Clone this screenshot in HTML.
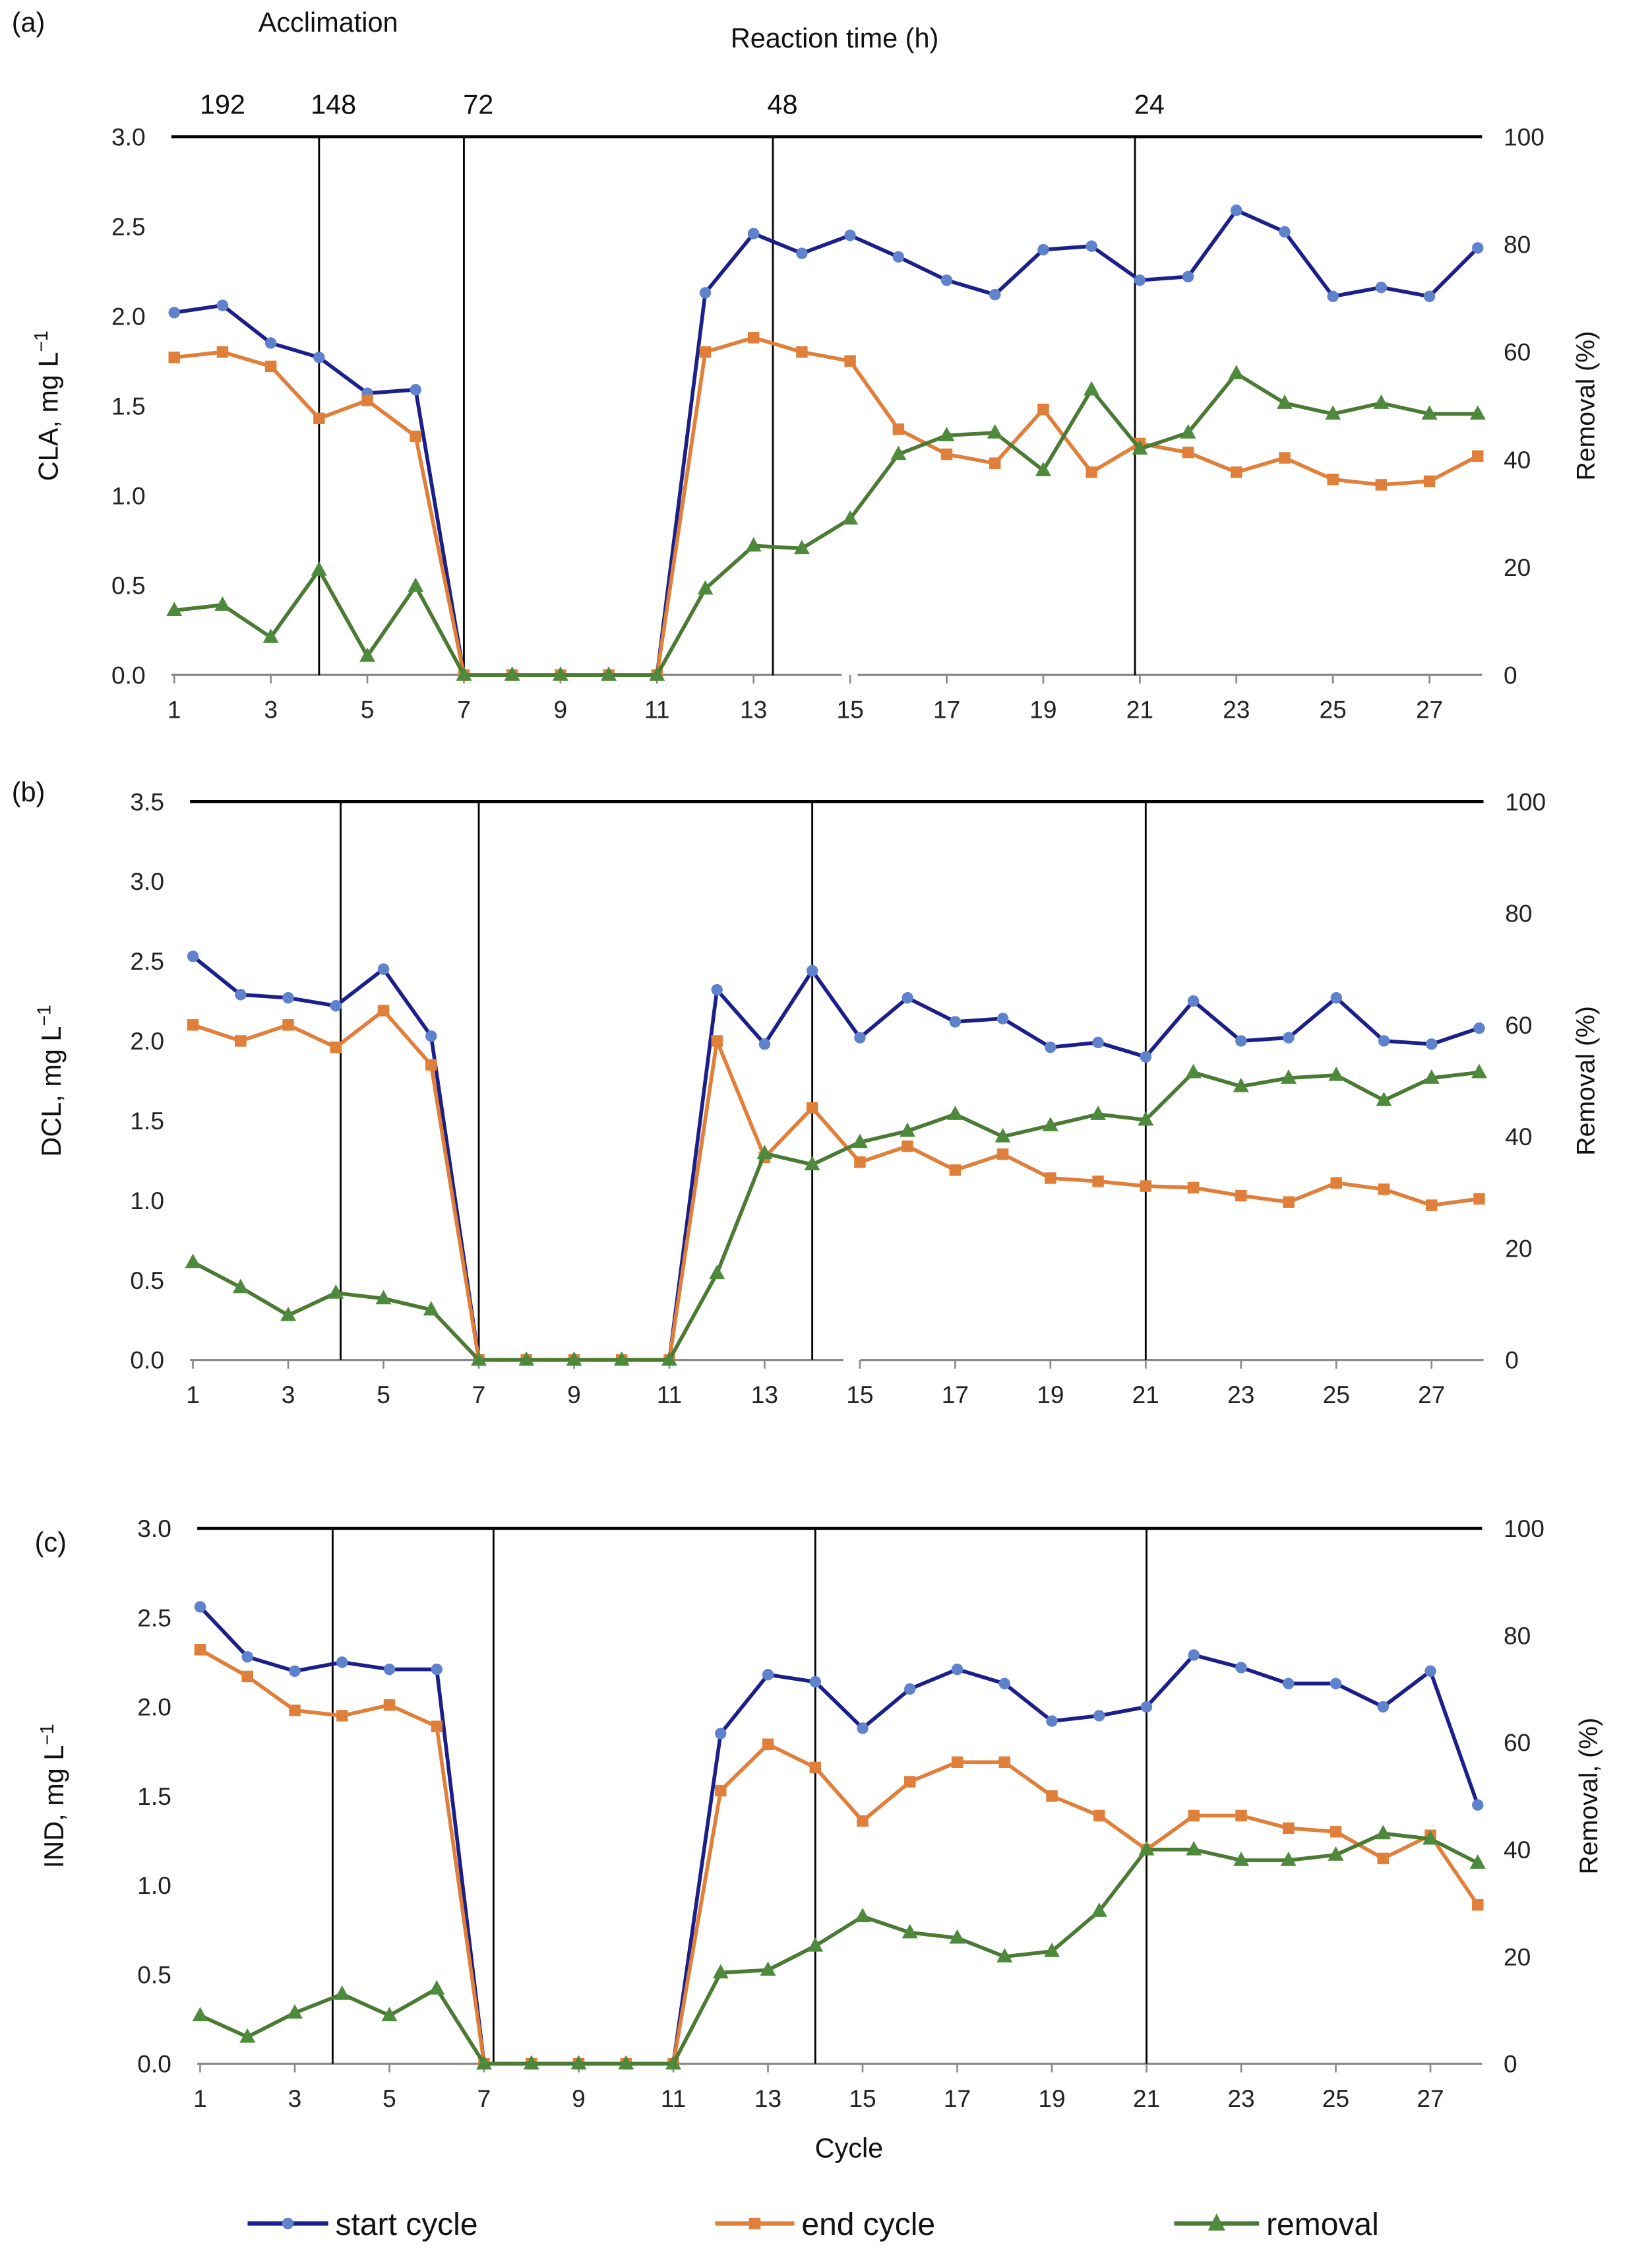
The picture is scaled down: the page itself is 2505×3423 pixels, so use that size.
<!DOCTYPE html>
<html><head><meta charset="utf-8"><style>
html,body{margin:0;padding:0;background:#fff;}
svg{display:block;font-family:"Liberation Sans",Arial,sans-serif;}
</style></head><body>
<svg id="fig" width="2505" height="3423" viewBox="0 0 1148 1569" xmlns="http://www.w3.org/2000/svg"></svg>
<script>
const cycles=[1,2,3,4,5,6,7,8,9,10,11,12,13,14,15,16,17,18,19,20,21,22,23,24,25,26,27,28];
const aStart=[2.02,2.06,1.85,1.77,1.57,1.59,0,0,0,0,0,2.13,2.46,2.35,2.45,2.33,2.2,2.12,2.37,2.39,2.2,2.22,2.59,2.47,2.11,2.16,2.11,2.38];
const aEnd=[1.77,1.8,1.72,1.43,1.53,1.33,0,0,0,0,0,1.8,1.88,1.8,1.75,1.37,1.23,1.18,1.48,1.13,1.29,1.24,1.13,1.21,1.09,1.06,1.08,1.22];
const aRem=[12,13,7,19.5,3.5,16.5,0,0,0,0,0,16,24,23.5,29,41,44.5,45,38,53,42,45,56,50.5,48.5,50.5,48.5,48.5];
const bStart=[2.53,2.29,2.27,2.22,2.45,2.03,0,0,0,0,0,2.32,1.98,2.44,2.02,2.27,2.12,2.14,1.96,1.99,1.9,2.25,2.0,2.02,2.27,2.0,1.98,2.08];
const bEnd=[2.1,2.0,2.1,1.96,2.19,1.85,0,0,0,0,0,2.0,1.27,1.58,1.24,1.34,1.19,1.29,1.14,1.12,1.09,1.08,1.03,0.99,1.11,1.07,0.97,1.01];
const bRem=[17.5,13,8,12,11,9,0,0,0,0,0,15.5,37,35,39,41,44,40,42,44,43,51.5,49,50.5,51,46.5,50.5,51.5];
const cStart=[2.56,2.28,2.2,2.25,2.21,2.21,0,0,0,0,0,1.85,2.18,2.14,1.88,2.1,2.21,2.13,1.92,1.95,2.0,2.29,2.22,2.13,2.13,2.0,2.2,1.45];
const cEnd=[2.32,2.17,1.98,1.95,2.01,1.89,0,0,0,0,0,1.53,1.79,1.66,1.36,1.58,1.69,1.69,1.5,1.39,1.2,1.39,1.39,1.32,1.3,1.15,1.28,0.89];
const cRem=[9,5,9.5,13,9,14,0,0,0,0,0,17,17.5,22,27.5,24.5,23.5,20,21,28.5,40,40,38,38,39,43,42,37.5];
const aTicks=[0,0.5,1,1.5,2,2.5,3];
const bTicks=[0,0.5,1,1.5,2,2.5,3,3.5];
const remTicksA=[0,20,40,60,80,100];
const remTicksB=[0,20,40,60,80,100];
const xTickLabels=[1,3,5,7,9,11,13,15,17,19,21,23,25,27];
const timeLabels=["192","148","72","48","24"];
const timeCycles=[2,4,7,13.3,20.9];

const NS="http://www.w3.org/2000/svg";
const svg=document.getElementById('fig');
function el(tag,attrs,parent,txt){const e=document.createElementNS(NS,tag);for(const k in attrs)e.setAttribute(k,attrs[k]);if(txt!==undefined)e.textContent=txt;(parent||svg).appendChild(e);return e;}

const BLUE="#1b1f8a",BLUEM="#5f82cc",ORANGE="#e07f3a",GREEN="#4a7a33",GREENM="#4e8a3c";

function panel(o){
  const g=el('g',{});
  
  
  const x=c=>o.x1+(c-1)*(o.x28-o.x1)/27;
  const y=v=>o.bot-(v/o.ymax)*(o.bot-o.top);
  const yr=v=>o.bot-(v/100)*(o.bot-o.top);
  const tb=el('line',{x1:o.x1-2,x2:o.x28+3,y1:o.top,y2:o.top,stroke:'#000','stroke-width':2},g);
  
  if(o.brk){
    el('line',{x1:o.x1-2,x2:o.brk[0],y1:o.bot,y2:o.bot,stroke:'#888','stroke-width':1.5},g);
    el('line',{x1:o.brk[1],x2:o.x28+3,y1:o.bot,y2:o.bot,stroke:'#888','stroke-width':1.5},g);
  } else {
    el('line',{x1:o.x1-2,x2:o.x28+3,y1:o.bot,y2:o.bot,stroke:'#888','stroke-width':1.5},g);
  }
  xTickLabels.forEach(c=>{
    el('line',{x1:x(c),x2:x(c),y1:o.bot,y2:o.bot+6,stroke:'#888','stroke-width':1.2},g);
    const t=el('text',{x:x(c),y:o.bot+30,'font-size':17,'text-anchor':'middle',fill:'#222'},g,c);
    
  });
  o.ticks.forEach(v=>{
    const t=el('text',{x:o.x1-20,y:y(v)+6,'font-size':17,'text-anchor':'end',fill:'#222'},g,v.toFixed(1));
    
  });
  o.rticks.forEach(v=>{
    const t=el('text',{x:o.x28+18,y:yr(v)+6,'font-size':17,'text-anchor':'start',fill:'#222'},g,v);
    
  });
  o.vl.forEach(c=>{
    const l=el('line',{x1:x(c),x2:x(c),y1:o.top,y2:o.bot,stroke:'#000','stroke-width':1.3},g);
    
  });
  const yt=el('text',{x:0,y:0,'font-size':19,'text-anchor':'middle',fill:'#111',transform:`translate(${o.ytx},${(o.top+o.bot)/2}) rotate(-90)`},g);
  
  el('tspan',{},yt,o.name+', mg L');el('tspan',{dy:-7,'font-size':13},yt,'−1');
  const rt=el('text',{x:0,y:0,'font-size':18,'text-anchor':'middle',fill:'#111',transform:`translate(${o.rtx},${(o.top+o.bot)/2}) rotate(-90)`},g,o.rtitle);
  
  const lab=el('text',{x:o.labx,y:o.laby,'font-size':19,fill:'#111'},g,o.lab);
  
  function series(vals,fy,lc,mc,shape,name){
    const pts=cycles.map((c,i)=>[x(c),fy(vals[i])]);
    const p=el('polyline',{points:pts.map(p=>p.join(',')).join(' '),fill:'none',stroke:lc,'stroke-width':2.6,'stroke-linejoin':'round'},g);
    
    pts.forEach(([px,py])=>{
      let m;
      if(shape==='c') m=el('circle',{cx:px,cy:py,r:4,fill:mc},g);
      else if(shape==='s') m=el('rect',{x:px-4,y:py-4,width:8,height:8,fill:mc},g);
      else m=el('polygon',{points:`${px},${py-6} ${px-5.5},${py+4} ${px+5.5},${py+4}`,fill:mc},g);
      
    });
  }
  series(o.s,y,BLUE,BLUEM,'c','start-cycle');
  series(o.e,y,ORANGE,ORANGE,'s','end-cycle');
  series(o.r,yr,GREEN,GREENM,'t','removal');
  return {x,g};
}

const pa=panel({id:'a',x1:121,x28:1027,top:95,bot:469,ymax:3,ticks:aTicks,rticks:remTicksA,vl:[4,7,13.4,20.9],brk:[585,596],
  s:aStart,e:aEnd,r:aRem,name:'CLA',ytx:40,rtx:1108,rtitle:'Removal (%)',lab:'(a)',labx:8,laby:22});
timeLabels.forEach((t,i)=>{
  const tt=el('text',{x:pa.x(timeCycles[i])+(i===0?0:10),y:79,'font-size':19,'text-anchor':'middle',fill:'#111'},svg,t);
  
});
let t1=el('text',{x:228,y:22,'font-size':19,'text-anchor':'middle',fill:'#111'},svg,'Acclimation');

let t2=el('text',{x:580,y:33,'font-size':19,'text-anchor':'middle',fill:'#111'},svg,'Reaction time (h)');


panel({id:'b',x1:134,x28:1028,top:557,bot:945,ymax:3.5,ticks:bTicks,rticks:remTicksB,vl:[4.1,7,14,21],brk:[586,598],
  s:bStart,e:bEnd,r:bRem,name:'DCL',ytx:42,rtx:1108,rtitle:'Removal (%)',lab:'(b)',labx:8,laby:557});

panel({id:'c',x1:139,x28:1027,top:1062,bot:1434,ymax:3,ticks:aTicks,rticks:remTicksA,vl:[3.8,7.2,14,21],brk:null,
  s:cStart,e:cEnd,r:cRem,name:'IND',ytx:44,rtx:1110,rtitle:'Removal, (%)',lab:'(c)',labx:24,laby:1078});

let cx=el('text',{x:590,y:1499,'font-size':19,'text-anchor':'middle',fill:'#111'},svg,'Cycle');


const lg=el('g',{});

[[172,'start cycle',BLUE,BLUEM,'c',56],[497,'end cycle',ORANGE,ORANGE,'s',55],[816,'removal',GREEN,GREENM,'t',59]].forEach(([lx,txt,lc,mc,sh,w])=>{
  const e=el('g',{},lg);
  
  el('line',{x1:lx,x2:lx+w,y1:1545,y2:1545,stroke:lc,'stroke-width':3},e);
  const mx=lx+w/2;
  if(sh==='c')el('circle',{cx:mx,cy:1545,r:4,fill:mc},e);
  else if(sh==='s')el('rect',{x:mx-4,y:1541,width:8,height:8,fill:mc},e);
  else el('polygon',{points:`${mx},${1538} ${mx-6},${1550} ${mx+6},${1550}`,fill:mc},e);
  el('text',{x:lx+w+5,y:1553,'font-size':22,fill:'#111'},e,txt);
});
</script>
</body></html>
